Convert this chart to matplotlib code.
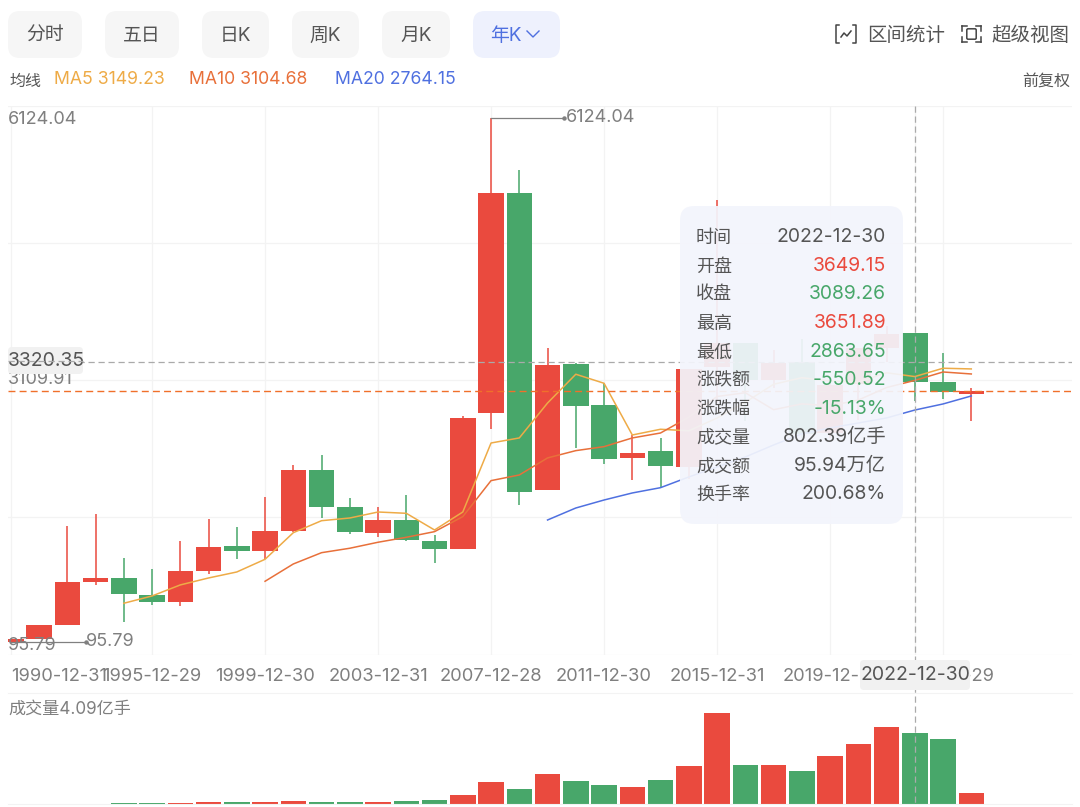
import matplotlib
matplotlib.use("Agg")
import matplotlib.pyplot as plt
from matplotlib.patches import FancyBboxPatch

plt.rcParams["font.family"] = ["Inter", "Noto Sans CJK SC", "DejaVu Sans"]

W, H = 1080, 807

RED = "#ea4a3e"
GREEN = "#48a76a"
C_MA5 = "#eeab47"
C_MA10 = "#e8703a"
C_MA20 = "#4f70e0"
GRID = "#f3f3f3"

YEARS = list(range(1990, 2025))
OPEN = [96, 127, 294, 784, 837, 638, 551, 917, 1200, 1147, 1368, 2073, 1646, 1347, 1497, 1261, 1163, 2728, 5265,
        1849, 3289, 2825, 2212, 2289, 2112, 3258, 3536, 3105, 3314, 2497, 3066, 3474, 3649, 3087, 2950]
CLOSE = [128, 293, 780, 834, 648, 555, 917, 1194, 1147, 1367, 2073, 1646, 1358, 1497, 1267, 1161, 2675, 5262, 1821,
         3277, 2808, 2199, 2269, 2116, 3235, 3539, 3104, 3307, 2494, 3050, 3473, 3640, 3089, 2975, 2983]
HIGH = [128, 295, 1430, 1565, 1058, 932, 1261, 1510, 1422, 1760, 2132, 2247, 1749, 1652, 1787, 1327, 2700, 6124,
        5526, 3475, 3309, 3075, 2480, 2440, 3239, 5178, 3540, 3450, 3587, 3100, 3475, 3732, 3652, 3417, 3018]
LOW = [96, 127, 293, 752, 330, 522, 514, 875, 1047, 1047, 1361, 1519, 1338, 1307, 1261, 1008, 1161, 2546, 1672,
       1856, 2324, 2140, 1960, 1864, 1974, 2850, 2638, 3017, 2440, 2441, 2646, 3313, 2864, 2888, 2642]
VOLUME = [0, 1, 2, 4, 8, 8, 15, 19, 19, 23, 30, 23, 19, 27, 38, 42, 103, 244, 164, 339, 259, 213, 190, 266, 426,
          1020, 445, 438, 373, 537, 681, 864, 802, 731, 122]

MA5 = [541, 625, 752, 832, 901, 1047, 1353, 1491, 1522, 1591, 1576, 1384, 1591, 2385, 2443, 2845, 3176, 3072,
       2477, 2543, 2525, 2672, 2853, 3060, 3136, 3099, 3086, 3193, 3149, 3245, 3237]
MA10 = [794, 993, 1123, 1174, 1243, 1300, 1365, 1538, 1952, 2017, 2213, 2297, 2343, 2443, 2500, 2682, 2920, 2963,
        2768, 2835, 2812, 2879, 3023, 3105, 3202, 3179]
MA20 = [1499, 1637, 1729, 1810, 1871, 1994, 2109, 2224, 2362, 2489, 2558, 2615, 2673, 2764, 2834, 2926]

TICK_YEARS = [1990, 1995, 1999, 2003, 2007, 2011, 2015, 2019, 2023]
TICK_LABELS = ["1990-12-31", "1995-12-29", "1999-12-30", "2003-12-31", "2007-12-28", "2011-12-30", "2015-12-31",
               "2019-12-31", "2023-12-29"]

BUTTONS = ["分时", "五日", "日K", "周K", "月K"]
TOOLTIP_LABELS = ["时间", "开盘", "收盘", "最高", "最低", "涨跌额", "涨跌幅", "成交量", "成交额", "换手率"]
TOOLTIP_VALUES = ["2022-12-30", "3649.15", "3089.26", "3651.89", "2863.65", "-550.52", "-15.13%", "802.39亿手",
                  "95.94万亿", "200.68%"]
TOOLTIP_COLORS = ["#555555", RED, GREEN, RED, GREEN, GREEN, GREEN, "#555555", "#555555", "#555555"]


def axes_px(fig, left, top, right, bottom):
    return fig.add_axes([left / W, 1 - bottom / H, (right - left) / W, (bottom - top) / H])


def x_limits(left, right):
    # candle i sits at 10.8 + 28.25 * i pixels
    return 1990 + (left - 10.8) / 28.25, 1990 + (right - 10.8) / 28.25


def draw_candles(ax):
    for year, o, c, h, l in zip(YEARS, OPEN, CLOSE, HIGH, LOW):
        color = RED if c >= o else GREEN
        ax.plot([year, year], [l, h], color=color, lw=1.1, solid_capstyle="butt", zorder=3)
        ax.bar(year, max(abs(c - o), 12), bottom=min(o, c), width=0.9, color=color, zorder=3)


def draw_main(fig):
    ax = axes_px(fig, 8, 106, 1072, 655)
    ax.set_xlim(*x_limits(8, 1072))
    ax.set_ylim(-54, 6262)
    draw_candles(ax)
    ax.plot(YEARS[4:], MA5, color=C_MA5, lw=1.1, zorder=4)
    ax.plot(YEARS[9:], MA10, color=C_MA10, lw=1.1, zorder=4)
    ax.plot(YEARS[19:], MA20, color=C_MA20, lw=1.1, zorder=4)

    ax.axhline(3320.35, color="#aaaaaa", lw=0.9, ls=(0, (5, 3)), zorder=5)
    ax.axhline(2983, color="#f0702a", lw=1.0, ls=(0, (5, 3)), zorder=5)

    ax.set_xticks(TICK_YEARS + [2022], [*TICK_LABELS, ""])
    ax.set_yticks([3109.91, 95.79 - 150, 6262, 1530, 4690], [""] * 5)
    ax.grid(color=GRID, lw=0.9, zorder=0)
    ax.tick_params(length=0, pad=9.5, labelsize=13.2, labelcolor="#7f7f7f")
    ax.get_xticklabels()[0].set_ha("left")
    for side in ax.spines.values():
        side.set_visible(False)

    # high / low callouts
    ax.plot([2007, 2009.57], [6124.04, 6124.04], color="#808080", lw=0.9, zorder=6)
    ax.plot([2009.57], [6124.04], "o", color="#808080", ms=2.2, zorder=6)
    ax.plot([1990, 1992.65], [95.79, 95.79], color="#808080", lw=0.9, zorder=6, clip_on=False)
    ax.plot([1992.65], [95.79], "o", color="#808080", ms=2.2, zorder=6)
    return ax


def draw_volume(fig):
    ax = axes_px(fig, 8, 693, 1072, 804)
    ax.set_xlim(*x_limits(8, 1072))
    ax.set_ylim(0, 111 * 11.27)
    colors = [RED if c >= o else GREEN for o, c in zip(OPEN, CLOSE)]
    ax.bar(YEARS, VOLUME, width=0.9, color=colors)
    ax.set_xticks([])
    ax.set_yticks([])
    for name, side in ax.spines.items():
        side.set_visible(name in ("top", "bottom"))
        side.set_color(GRID)
    return ax


def pill(ui, left, top, right, bottom, color, radius=12, alpha=1.0, zorder=2):
    ui.add_patch(FancyBboxPatch((left + radius, top + radius), right - left - 2 * radius, bottom - top - 2 * radius,
                                boxstyle=f"round,pad={radius}", fc=color, ec="none", alpha=alpha, zorder=zorder))


def draw_overlay(fig):
    ui = fig.add_axes([0, 0, 1, 1], zorder=10)
    ui.set_xlim(0, W)
    ui.set_ylim(H, 0)
    ui.axis("off")

    spans = [(8, 82), (105, 179), (202, 269), (292, 359), (382, 450)]
    for name, (left, right) in zip(BUTTONS, spans):
        pill(ui, left, 11, right, 58, "#f6f6f6")
        ui.text((left + right) / 2, 36, name, fontsize=13.6, color="#555555", ha="center", va="center")
    pill(ui, 473, 11, 560, 58, "#eef1fd")
    ui.text(490, 36, "年K", fontsize=13.6, color="#4f70e0", ha="left", va="center")
    ui.plot([527, 533, 539], [31, 37, 31], color="#4f70e0", lw=1.0)

    ui.text(9, 81, "均线", fontsize=11.5, color="#555555", va="center")
    ui.text(54, 80, "MA5 3149.23", fontsize=12.7, color=C_MA5, va="center")
    ui.text(189, 80, "MA10 3104.68", fontsize=12.7, color=C_MA10, va="center")
    ui.text(335, 80, "MA20 2764.15", fontsize=12.7, color=C_MA20, va="center")
    ui.text(1070, 81, "前复权", fontsize=11.5, color="#555555", ha="right", va="center")

    ui.text(867, 36, "区间统计", fontsize=14, color="#555555", va="center")
    ui.text(991, 36, "超级视图", fontsize=14, color="#555555", va="center")
    ui.plot([839, 836, 836, 839], [25, 25, 43, 43], color="#444444", lw=1.1)
    ui.plot([853, 856, 856, 853], [25, 25, 43, 43], color="#444444", lw=1.1)
    ui.plot([841, 844, 847, 851], [37, 33, 36, 31], color="#444444", lw=1.1)
    for x0, x1 in [(962, 967), (981, 976)]:
        ui.plot([x0, x1], [26, 26], color="#444444", lw=1.1)
        ui.plot([x0, x1], [42, 42], color="#444444", lw=1.1)
        ui.plot([x0, x0], [26, 31], color="#444444", lw=1.1)
        ui.plot([x0, x0], [37, 42], color="#444444", lw=1.1)
    ui.add_patch(FancyBboxPatch((968, 30), 7, 8, boxstyle="round,pad=1.2", fc="none", ec="#444444", lw=1.1))

    # value labels on the price axis
    ui.text(8, 120, "6124.04", fontsize=13, color="#7f7f7f", va="center")
    ui.text(566, 117, "6124.04", fontsize=13, color="#7f7f7f", va="center")
    ui.text(8, 379, "3109.91", fontsize=13, color="#7f7f7f", va="center", zorder=1)
    ui.text(8, 645, "95.79", fontsize=13, color="#7f7f7f", va="center")
    ui.text(86, 641, "95.79", fontsize=13, color="#7f7f7f", va="center")
    pill(ui, 8, 347, 83, 374, "#f1f1f1", radius=4)
    ui.text(8, 361, "3320.35", fontsize=14, color="#555555", va="center", zorder=3)
    ui.plot([8, 83], [361, 361], color="#aaaaaa", lw=0.9, ls=(0, (5, 3)), zorder=4)

    ui.text(8, 709, "成交量4.09亿手", fontsize=12.3, color="#7f7f7f", va="center")

    # tooltip goes over the chart, faint candles still show through
    pill(ui, 680, 206, 903, 524, "#f3f5fc", radius=14, alpha=0.93, zorder=5)
    rows = [236, 265, 293, 322, 351, 379, 408, 436, 465, 493]
    for y, label, value, color in zip(rows, TOOLTIP_LABELS, TOOLTIP_VALUES, TOOLTIP_COLORS):
        ui.text(696, y + 2, label, fontsize=13, color="#555555", va="center", zorder=6)
        ui.text(886, y + 1, value, fontsize=13.9, color=color, ha="right", va="center", zorder=6)

    # crosshair and its date badge
    ui.plot([915, 915], [106, 805], color="#aaaaaa", lw=0.9, ls=(0, (5, 3)), zorder=7)
    pill(ui, 860, 660, 970, 690, "#f1f1f1", radius=4, zorder=8)
    ui.text(915, 675, "2022-12-30", fontsize=14, color="#555555", ha="center", va="center", zorder=9)
    return ui


def main():
    fig = plt.figure(figsize=(W / 100, H / 100), dpi=100, facecolor="white")
    draw_main(fig)
    draw_volume(fig)
    draw_overlay(fig)
    fig.savefig("out.png", dpi=100)


if __name__ == "__main__":
    main()
